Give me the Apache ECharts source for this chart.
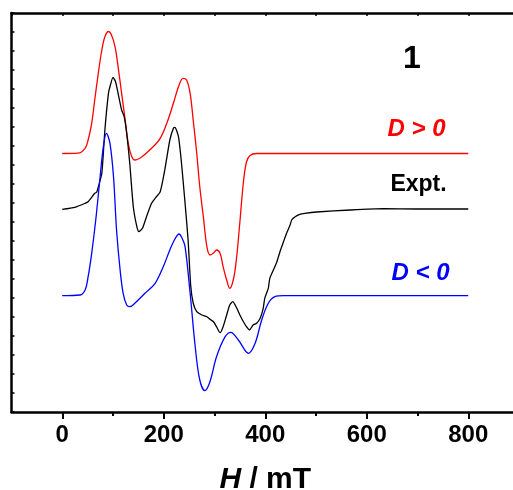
<!DOCTYPE html>
<html><head><meta charset="utf-8">
<script src="https://cdn.jsdelivr.net/npm/echarts@6/dist/echarts.min.js"></script>
<style>html,body{margin:0;padding:0;background:#fff}#c{width:513px;height:490px}</style>
</head><body><div id="c"></div>
<script>
// Field H (mT)
const xTickLabels = [0, 200, 400, 600, 800];
const xMinorTicks = [100, 300, 500, 700];

// Simulation D > 0 (red), offset intensity (arb. units)
const redH = [0, 31, 45, 51, 58, 64, 71, 78, 84, 91, 97, 104, 110, 117, 124, 130, 137, 143, 157, 176, 193, 206, 219, 229, 238, 245, 252, 258, 265, 271, 278, 285, 291, 298, 304, 311, 317, 324, 330, 337, 343, 350, 357, 363, 370, 383, 800];
const redY = [258.5, 258.8, 263.7, 272, 288.7, 312, 338.7, 362, 375.3, 380.5, 377, 365.3, 345.3, 318.7, 292, 268.7, 255.3, 252, 255.3, 263.7, 273.7, 288.7, 308.7, 325.3, 333.7, 332, 318.7, 292, 258.7, 225.3, 195.3, 165.3, 157, 159, 162, 158.7, 145.3, 132, 123.7, 132, 152, 190, 230, 250, 256.5, 258.5, 258.5];

// Experiment (black)
const expH = [0, 25, 45, 51, 64, 68, 71, 78, 84, 91, 94, 100, 105, 110, 117, 122, 127, 133, 140, 147, 151, 158, 166, 176, 183, 193, 202, 212, 219, 222, 229, 235, 242, 248, 253, 258, 265, 275, 285, 291, 298, 304, 311, 317, 324, 330, 336, 344, 350, 357, 363, 369, 376, 383, 390, 396, 399, 406, 409, 416, 423, 429, 436, 442, 449, 452, 459, 468, 478, 501, 568, 633, 698, 800];
const expY = [202.7, 204.7, 208.7, 210.3, 218.7, 220, 225, 238.7, 282, 318.7, 325.3, 334.7, 330.3, 318.7, 302, 295.3, 278.7, 248.7, 205.3, 185.3, 180.3, 183.7, 195.3, 208.7, 213.7, 220.3, 242, 272, 283.7, 284.7, 275.3, 248.7, 208.7, 172, 127, 109, 100.3, 97, 95.3, 92.7, 90.3, 85.3, 79.3, 85.3, 97, 107, 110.3, 103.7, 97, 90.3, 85.3, 82, 87, 88.7, 93.7, 103.7, 113.7, 123.7, 133.7, 142, 150.3, 160.3, 170.3, 178.7, 187, 192, 195.3, 197.7, 198.7, 200, 202, 203.3, 203, 203];

// Simulation D < 0 (blue)
const blueH = [0, 35, 45, 51, 58, 66, 74, 81, 87, 94, 101, 107, 114, 120, 127, 133, 143, 163, 183, 199, 212, 222, 230, 236, 242, 252, 262, 271, 281, 291, 304, 321, 332, 347, 367, 380, 393, 406, 419, 436, 800];
const blueY = [116.3, 117, 122, 135.3, 158.7, 192, 232, 265.3, 278.7, 268.7, 235.3, 182, 142, 118.7, 107, 105.3, 108.7, 118.7, 128.7, 145.3, 162, 173, 178, 174, 165.3, 118.7, 65.3, 32, 21.3, 30.3, 55.3, 75.3, 79.7, 72, 58.7, 68.7, 92, 108.7, 115.3, 116.3, 116.3];

const labelFont = 'Liberation Sans, Arial, sans-serif';
const zip = (xs, ys) => xs.map((x, i) => [x, ys[i]]);

const chart = echarts.init(document.getElementById('c'), null, {renderer: 'canvas'});
chart.setOption({
  animation: false,
  backgroundColor: '#fff',
  grid: {left: 11.5, right: -6, top: 13, bottom: 78, containLabel: false, outerBoundsMode: 'none'},
  xAxis: [
    {
      type: 'value', position: 'bottom', min: -100, max: 900,
      axisLine: {show: true, onZero: false, lineStyle: {color: '#000', width: 2.5}},
      axisTick: {show: true, inside: false, length: 7, customValues: xTickLabels, lineStyle: {color: '#000', width: 2}},
      axisLabel: {show: true, customValues: xTickLabels, margin: 11, color: '#000', fontSize: 24, fontWeight: 'bold', fontFamily: labelFont},
      splitLine: {show: false},
      name: '{i|H} / mT', nameLocation: 'middle', nameGap: 53,
      nameTextStyle: {color: '#000', fontSize: 30, fontWeight: 'bold', fontFamily: labelFont,
        rich: {i: {fontStyle: 'italic', fontWeight: 'bold', fontSize: 30, fontFamily: labelFont, color: '#000'}}}
    },
    {
      type: 'value', position: 'bottom', min: -100, max: 900,
      axisLine: {show: false, onZero: false},
      axisTick: {show: true, inside: false, length: 4, customValues: xMinorTicks, lineStyle: {color: '#000', width: 2}},
      axisLabel: {show: false}, splitLine: {show: false}
    },
    {
      type: 'value', position: 'top', min: -100, max: 900, interval: 100,
      axisLine: {show: true, onZero: false, lineStyle: {color: '#000', width: 2.5}},
      axisTick: {show: true, inside: true, length: 3, lineStyle: {color: '#000', width: 1.5}},
      axisLabel: {show: false}, splitLine: {show: false}
    }
  ],
  yAxis: {
    type: 'value', min: 0, max: 399, interval: 19,
    axisLine: {show: true, onZero: false, lineStyle: {color: '#000', width: 2.5}},
    axisTick: {show: true, inside: true, length: 3, lineStyle: {color: '#000', width: 1.5}},
    axisLabel: {show: false}, splitLine: {show: false}
  },
  series: [
    {name: 'D > 0', type: 'line', data: zip(redH, redY), showSymbol: false, smooth: 0.35, lineStyle: {color: '#ff0000', width: 1.3}, itemStyle: {color: '#ff0000'}},
    {name: 'Expt.', type: 'line', data: zip(expH, expY), showSymbol: false, smooth: 0.2, lineStyle: {color: '#000', width: 1.3}, itemStyle: {color: '#000'}},
    {name: 'D < 0', type: 'line', data: zip(blueH, blueY), showSymbol: false, smooth: 0.35, lineStyle: {color: '#0000ff', width: 1.3}, itemStyle: {color: '#0000ff'}}
  ],
  graphic: [
    {type: 'text', x: 412, y: 59.5, style: {text: '1', fill: '#000', font: 'bold 32px ' + labelFont, textAlign: 'center', textVerticalAlign: 'middle'}},
    {type: 'text', x: 416.5, y: 129, style: {text: 'D > 0', fill: '#ff0000', font: 'italic bold 24px ' + labelFont, textAlign: 'center', textVerticalAlign: 'middle'}},
    {type: 'text', x: 418.5, y: 185, style: {text: 'Expt.', fill: '#000', font: 'bold 23px ' + labelFont, textAlign: 'center', textVerticalAlign: 'middle'}},
    {type: 'text', x: 420.5, y: 273, style: {text: 'D < 0', fill: '#0000ff', font: 'italic bold 24px ' + labelFont, textAlign: 'center', textVerticalAlign: 'middle'}}
  ]
});
</script></body></html>
